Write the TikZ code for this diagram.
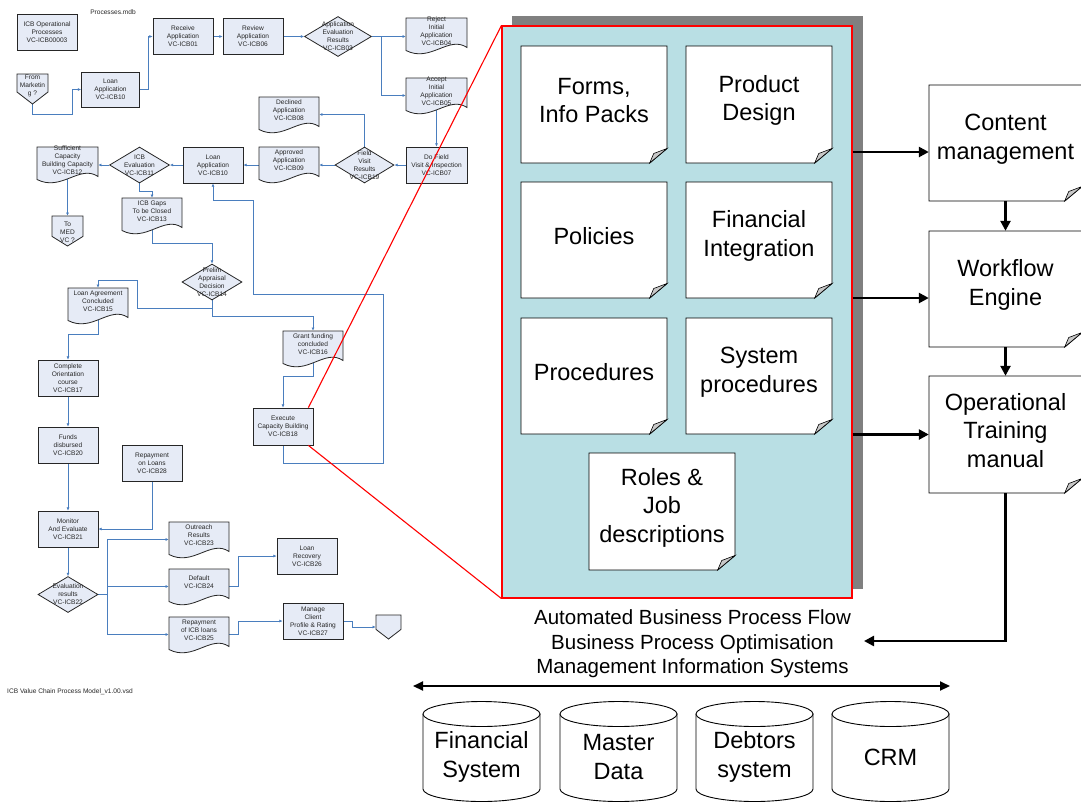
\documentclass[tikz,border=0pt]{standalone}
\usepackage{fontspec}
\setmainfont{Liberation Sans}
\usetikzlibrary{arrows.meta,shapes.geometric}

\definecolor{flowfill}{RGB}{230,235,246}
\definecolor{flowblue}{RGB}{74,126,190}
\definecolor{panelteal}{RGB}{185,223,228}
\definecolor{shadowgray}{RGB}{128,128,128}
\definecolor{foldgray}{RGB}{200,200,200}

\pgfdeclarelayer{bg}
\pgfsetlayers{bg,main}

\newcommand\flowfont{\fontsize{6.6}{8}\selectfont}
\newcommand\bigfont{\fontsize{23.5}{28.5}\selectfont}
\newcommand\bandfont{\fontsize{20.5}{24.5}\selectfont}

\tikzset{
  flowtext/.style={align=center, inner sep=0pt, font=\flowfont, text=black!85},
  procbox/.style={draw=black!85, fill=flowfill, line width=0.8pt, align=center,
    inner sep=0pt, font=\flowfont, text=black!85, minimum width=60pt, minimum height=36pt},
  decbox/.style={diamond, draw=black!85, fill=flowfill, line width=0.8pt,
    inner sep=0pt, minimum width=60pt, minimum height=36pt},
  shapeline/.style={draw=black!85, fill=flowfill, line width=0.8pt},
  anchorbox/.style={inner sep=0pt, draw=none},
  flow/.style={draw=flowblue, line width=0.9pt, -{Latex[length=3.2pt,width=3pt]}},
  flowplain/.style={draw=flowblue, line width=0.9pt},
  notepaper/.style={draw=black, fill=white, line width=0.9pt},
  notefold/.style={draw=black, fill=foldgray, line width=0.6pt},
  notetext/.style={align=center, inner sep=0pt, font=\bigfont},
  bigarrow/.style={draw=black, line width=2.4pt, -{Triangle[length=10pt,width=10pt]}},
  busarrow/.style={draw=black, line width=2pt,
    {Triangle[length=10pt,width=9pt]}-{Triangle[length=10pt,width=9pt]}},
  redline/.style={draw=red, line width=1.1pt},
  dbcyl/.style={draw=black, fill=white, line width=0.9pt},
}

% document symbol with a wavy lower edge: name, left, top, width, text
\newcommand\docnode[5]{%
  \path[shapeline] (#2,#3) -- ++(#4,0) -- ++(0,29.5)
    .. controls (#2+0.7*#4,#3+17) and (#2+0.4*#4,#3+45) .. (#2,#3+32.5) -- cycle;
  \node[anchorbox, minimum width=#4pt, minimum height=35pt] (#1) at (#2+#4/2,#3+17.5) {};
  \node[flowtext] (#1-t) at (#2+#4/2,#3+13) {#5};}

% off-page connector: name, left, top, width, height, share of height taken by the sides
\newcommand\offpage[6]{%
  \path[shapeline] (#2,#3) -- ++(#4,0) -- ++(0,#6*#5) -- (#2+#4/2,#3+#5)
    -- (#2,#3+#6*#5) -- cycle;
  \node[anchorbox, minimum width=#4pt, minimum height=#5pt] (#1) at (#2+#4/2,#3+#5/2) {};}

% sheet with a turned-up corner: name, left, top, right, bottom, text
\newcommand\notebox[6]{%
  \path[notepaper] (#2,#3) -- (#4,#3) -- (#4,#5-14.5) -- (#4-17.3,#5) -- (#2,#5) -- cycle;
  \path[notefold] (#4-17.3,#5) -- (#4-13.3,#5-9.5) -- (#4,#5-14.5) -- cycle;
  \node[anchorbox, minimum width={(#4-#2)*1pt}, minimum height={(#5-#3)*1pt}]
    (#1) at ({(#2+#4)/2},{(#3+#5)/2}) {};
  \node[notetext, yshift=4pt] (#1-t) at (#1.center) {#6};}

% database cylinder: name, centre x, text
\newcommand\database[3]{%
  \path[dbcyl] (#2-58.5,714) -- (#2-58.5,789)
    .. controls (#2-58.5,795.9) and (#2-32.3,801.5) .. (#2,801.5)
    .. controls (#2+32.3,801.5) and (#2+58.5,795.9) .. (#2+58.5,789)
    -- (#2+58.5,714) -- cycle;
  \path[dbcyl] (#2,714) ellipse [x radius=58.5pt, y radius=12.5pt];
  \node[notetext] (#1) at (#2,757) {#3};}

\begin{document}
\begin{tikzpicture}[x=1pt,y=-1pt]
\useasboundingbox (0,0) rectangle (1081,804);
\begin{pgfonlayer}{bg}
  \fill[white] (0,0) rectangle (1081,804);
\end{pgfonlayer}

% ---------------- process model (left) ----------------
\node[flowtext] (title) at (113,12) {Processes.mdb};
\node[flowtext, anchor=west] (footer) at (7,692) {ICB Value Chain Process Model\_v1.00.vsd};

\node[procbox] (ops) at (47,32) {ICB Operational\\Processes\\VC-ICB00003};
\offpage{frm}{17}{74}{31}{30}{0.6}
\node[flowtext] (frm-t) at (32.5,86) {From\\Marketin\\g ?};
\node[procbox, minimum width=58pt, minimum height=35pt] (la1) at (110.5,89.5) {Loan\\Application\\VC-ICB10};
\node[procbox] (rcv) at (183,36.5) {Receive\\Application\\VC-ICB01};
\node[procbox] (rev) at (253,36.5) {Review\\Application\\VC-ICB06};
\node[decbox, minimum width=67pt, minimum height=40pt] (d03) at (338,36.5) {};
\node[flowtext] (d03-t) at (d03) {Application\\Evaluation\\Results\\VC-ICB03};
\docnode{rej}{406}{18}{61}{Reject\\Initial\\Application\\VC-ICB04}
\docnode{acc}{406}{78}{61}{Accept\\Initial\\Application\\VC-ICB05}
\node[procbox, minimum width=61pt] (dof) at (436.5,165) {Do Field\\Visit \& Inspection\\VC-ICB07};
\node[decbox, minimum width=59pt] (d19) at (364.5,165) {};
\node[flowtext] (d19-t) at (d19) {Field\\Visit\\Results\\VC-ICB19};
\docnode{dec}{259}{97}{60}{Declined\\Application\\VC-ICB08}
\docnode{app}{259}{147}{60}{Approved\\Application\\VC-ICB09}
\node[procbox] (la2) at (213,165) {Loan\\Application\\VC-ICB10};
\node[decbox] (d11) at (139.5,165) {};
\node[flowtext] (d11-t) at (d11) {ICB\\Evaluation\\VC-ICB11};
\docnode{suf}{37}{147}{61}{Sufficient\\Capacity\\Building Capacity\\VC-ICB12}
\offpage{med}{52}{216}{31}{30}{0.68}
\node[flowtext] (med-t) at (67.5,232) {To\\MED\\VC ?};
\docnode{gap}{122}{198}{60}{ICB Gaps\\To be Closed\\VC-ICB13}
\node[decbox] (d14) at (212,282) {};
\node[flowtext] (d14-t) at (d14) {Prelim\\Appraisal\\Decision\\VC-ICB14};
\docnode{lag}{68}{288}{60}{Loan Agreement\\Concluded\\VC-ICB15}
\docnode{gra}{283}{331}{60}{Grant funding\\concluded\\VC-ICB16}
\node[procbox, minimum height=37pt] (exe) at (283,426.5) {Execute\\Capacity Building\\VC-ICB18};
\node[procbox] (cor) at (68,378) {Complete\\Orientation\\course\\VC-ICB17};
\node[procbox] (fun) at (68,445) {Funds\\disbursed\\VC-ICB20};
\node[procbox] (rp28) at (152,463) {Repayment\\on Loans\\VC-ICB28};
\node[procbox] (mon) at (68,529) {Monitor\\And Evaluate\\VC-ICB21};
\node[decbox] (d22) at (68,594.5) {};
\node[flowtext] (d22-t) at (d22) {Evaluation\\results\\VC-ICB22};
\docnode{out}{169}{522}{60}{Outreach\\Results\\VC-ICB23}
\docnode{dflt}{169}{569}{60}{Default\\VC-ICB24}
\docnode{rp25}{169}{617}{60}{Repayment\\of ICB loans\\VC-ICB25}
\node[procbox] (rec) at (307,556) {Loan\\Recovery\\VC-ICB26};
\node[procbox] (man) at (313,621) {Manage\\Client\\Profile \& Rating\\VC-ICB27};
\offpage{fin}{376}{615}{25}{24}{0.6}

\coordinate (sp1) at (381,36.5);
\coordinate (sp2) at (107,594.5);

\begin{pgfonlayer}{bg}
  \draw[flow] (frm.south) |- (72,114) |- (la1.west);
  \draw[flow] (la1.east) -- (148,89.5) |- (rcv.west);
  \draw[flow] (rcv.east) -- (rev.west);
  \draw[flow] (rev.east) -- (d03.west);
  \draw[flow] (d03.east) -- (rej.west |- d03.east);
  \draw[flow] (sp1) |- (acc.west);
  \draw[flow] (acc.center) -- (dof.north);
  \draw[flow] (dof.west) -- (d19.east);
  \draw[flow] (d19.north) |- (dec.east);
  \draw[flow] (d19.west) -- (app.east |- d19.west);
  \draw[flow] (app.west |- la2.east) -- (la2.east);
  \draw[flow] (la2.west) -- (d11.east);
  \draw[flow] (d11.west) -- (suf.east |- d11.west);
  \draw[flow] (suf.center) -- (med.north);
  \draw[flow] (d11.south) -- ++(0,8.5) -| (gap.north);
  \draw[flow] (gap.center) -- ++(0,28) -| (d14.north);
  \draw[flow] (d14.south) |- (137,308) -- (137,280) -| (lag.north);
  \draw[flow] (d14.south) -- ++(0,16) -| (gra.north);
  \draw[flow] (gra.center) -- ++(0,27.5) -| (exe.north);
  \draw[flow] (exe.south) -- ++(0,18) -| (383,294) -| (253,200) -| (la2.south);
  \draw[flow] (lag.center) -- ++(0,28.5) -| (cor.north);
  \draw[flow] (cor.south) -- (fun.north);
  \draw[flow] (fun.south) -- (mon.north);
  \draw[flow] (rp28.south) |- (mon.east);
  \draw[flow] (mon.south) -- (d22.north);
  \draw[flowplain] (d22.east) -- (sp2);
  \draw[flow] (sp2) |- (out.west);
  \draw[flow] (sp2) |- (dflt.west);
  \draw[flow] (sp2) |- (rp25.west);
  \draw[flow] (dflt.east) -- ++(9,0) |- (rec.west);
  \draw[flow] (rp25.east) -- ++(9,0) |- (man.west);
  \draw[flow] (man.east) -- ++(9,0) |- (fin.west);
\end{pgfonlayer}

% ---------------- process documentation panel ----------------
\fill[shadowgray] (512,16) rectangle (863,589);
\node[draw=red, fill=panelteal, line width=1.1pt, inner sep=0pt,
  minimum width=350pt, minimum height=572pt] (panel) at (677,312) {};

\draw[redline] ([xshift=-5pt]exe.north east) -- (panel.north west);
\draw[redline] ([xshift=-5pt]exe.south east) -- (panel.south west);

\notebox{forms}{521}{46}{667}{163}{Forms,\\Info Packs}
\notebox{prod}{686}{46}{832}{163}{Product\\Design}
\notebox{pol}{521}{182}{667}{298}{Policies}
\notebox{fint}{686}{182}{832}{298}{Financial\\Integration}
\notebox{proc}{521}{318}{667}{434}{Procedures}
\notebox{sysp}{686}{318}{832}{434}{System\\procedures}
\notebox{roles}{589}{453}{735}{570}{Roles \&\\Job\\descriptions}

% ---------------- delivery chain (right) ----------------
\notebox{cm}{929}{85}{1082}{201}{Content\\management}
\notebox{wf}{929}{231}{1082}{347}{Workflow\\Engine}
\notebox{op}{929}{376}{1082}{493}{Operational\\Training\\manual}

\coordinate (cmIn) at ([yshift=-9pt]cm.west);
\coordinate (wfIn) at ([yshift=-9pt]wf.west);
\coordinate (opIn) at (op.west);
\draw[bigarrow] (panel.east |- cmIn) -- (cmIn);
\draw[bigarrow] (panel.east |- wfIn) -- (wfIn);
\draw[bigarrow] (panel.east |- opIn) -- (opIn);
\draw[bigarrow] (cm.south) -- (wf.north);
\draw[bigarrow] (wf.south) -- (op.north);

\node[align=center, inner sep=0pt, font=\bandfont] (flows) at (692.5,644)
  {Automated Business Process Flow\\Business Process Optimisation\\Management Information Systems};
\coordinate (flowsIn) at (864,641);
\draw[bigarrow] (op.south) |- (flowsIn);

\coordinate (busL) at (413,686);
\coordinate (busR) at (950,686);
\draw[busarrow] (busL) -- (busR);

\database{fsys}{481.5}{Financial\\System}
\database{mdata}{618.5}{Master\\Data}
\database{debt}{754.5}{Debtors\\system}
\database{crm}{890.5}{CRM}
\end{tikzpicture}
\end{document}
